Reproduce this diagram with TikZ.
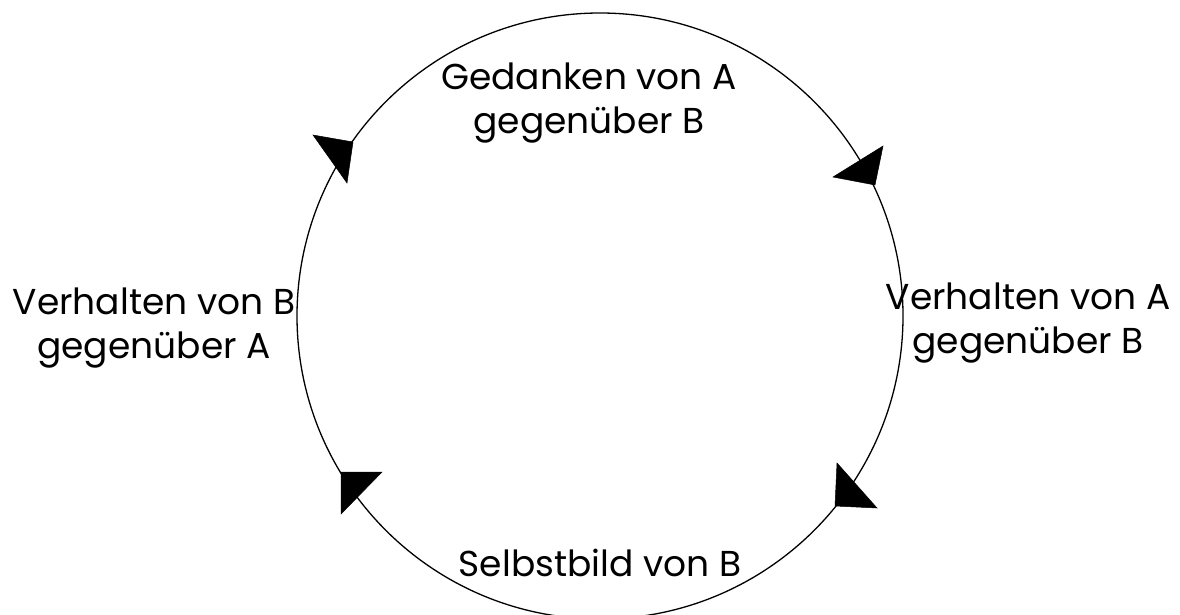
\documentclass[tikz,border=0pt]{standalone}
\usepackage{fontspec}
\setmainfont{Poppins}
\begin{document}
\begin{tikzpicture}[x=1pt,y=-1pt,
  lbl/.style={align=center, font=\fontsize{36}{44}\selectfont, inner sep=0pt, anchor=base},
  ring/.style={line width=1.3pt, draw=black},
  head/.style={fill=black, draw=black, line width=0.5pt, line join=miter}]
\useasboundingbox (0,0) rectangle (1180,614);
\clip (0,0) rectangle (1180,614);
\coordinate (O) at (600,316);
\draw[ring] (O) circle[radius=303];
% arrowheads (tip, base ends)
\coordinate (t1) at (353,142); \coordinate (b1a) at (313,135); \coordinate (b1b) at (347,183);
\coordinate (t2) at (875,185); \coordinate (b2a) at (833,177); \coordinate (b2b) at (883,146);
\coordinate (t3) at (835,506); \coordinate (b3a) at (837,463); \coordinate (b3b) at (877,508);
\coordinate (t4) at (341,472); \coordinate (b4a) at (382,472); \coordinate (b4b) at (341,514);
\filldraw[head] (t1) -- (b1a) -- (b1b) -- cycle;
\filldraw[head] (t2) -- (b2a) -- (b2b) -- cycle;
\filldraw[head] (t3) -- (b3a) -- (b3b) -- cycle;
\filldraw[head] (t4) -- (b4a) -- (b4b) -- cycle;
% labels
\node[lbl] (gA) at (589,133) {Gedanken von A\\gegenüber B};
\node[lbl] (vA) at (1028,353) {Verhalten von A\\gegenüber B};
\node[lbl] (sB) at (600,576) {Selbstbild von B};
\node[lbl] (vB) at (154,358) {Verhalten von B\\gegenüber A};
\end{tikzpicture}
\end{document}
